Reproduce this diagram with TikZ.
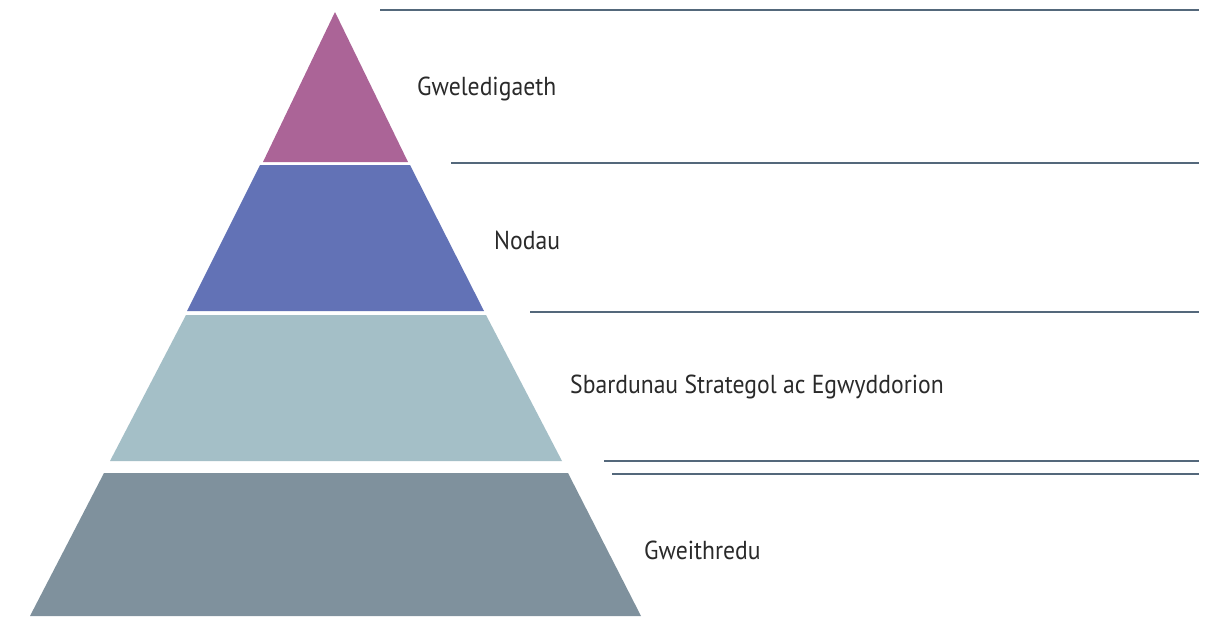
\documentclass[tikz,border=0pt]{standalone}
\usepackage{fontspec}
\setmainfont{PT Sans}[FakeStretch=0.91]
\definecolor{lvA}{HTML}{AB6497}
\definecolor{lvB}{HTML}{6272B6}
\definecolor{lvC}{HTML}{A4BFC7}
\definecolor{lvD}{HTML}{7F919D}
\definecolor{rule}{HTML}{54687B}
\definecolor{txt}{HTML}{2A2A2A}
\begin{document}
\begin{tikzpicture}[x=1pt,y=-1pt,
  layer/.style={draw=none},
  sep/.style={draw=rule,line width=1.2pt},
  lbl/.style={anchor=west,inner sep=0pt,text=txt,font=\fontsize{26}{29}\selectfont}]
\useasboundingbox[fill=white] (0,0) rectangle (1215,616);
% layers
\fill[lvA] (335,12) -- (408,162) -- (263,162) -- cycle;
\fill[lvB] (260,165) -- (410,165) -- (484,311) -- (187,311) -- cycle;
\fill[lvC] (186,315) -- (486,315) -- (562,461) -- (110,461) -- cycle;
\fill[lvD] (104,473) -- (568,473) -- (641,616) -- (30,616) -- cycle;
% rules
\coordinate (r1a) at (380,10);  \coordinate (r1b) at (1199,10);
\coordinate (r2a) at (451,163); \coordinate (r2b) at (1199,163);
\coordinate (r3a) at (530,312); \coordinate (r3b) at (1199,312);
\coordinate (r4a) at (604,461); \coordinate (r4b) at (1199,461);
\coordinate (r5a) at (612,474); \coordinate (r5b) at (1199,474);
\draw[sep] (r1a) -- (r1b);
\draw[sep] (r2a) -- (r2b);
\draw[sep] (r3a) -- (r3b);
\draw[sep] (r4a) -- (r4b);
\draw[sep] (r5a) -- (r5b);
% labels
\node[lbl] (t1) at (417,89) {Gweledigaeth};
\node[lbl] (t2) at (494,240) {Nodau};
\node[lbl] (t3) at (570,387) {Sbardunau Strategol ac Egwyddorion};
\node[lbl] (t4) at (644,550) {Gweithredu};
\end{tikzpicture}
\end{document}
